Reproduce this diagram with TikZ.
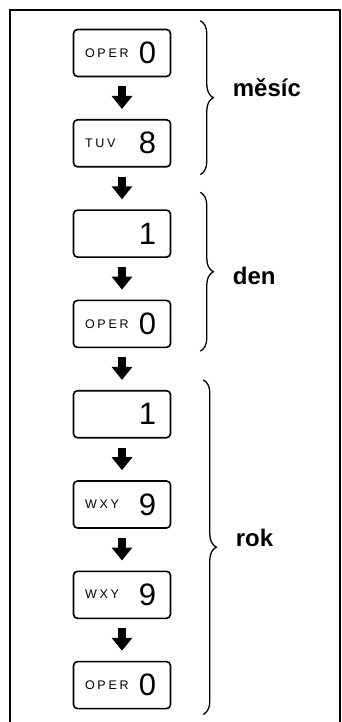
\documentclass[tikz,border=0pt]{standalone}
\usepackage{fontspec}
\setmainfont{Liberation Sans}
\usetikzlibrary{positioning,arrows.meta,decorations.pathreplacing,calc}
\newcommand{\klbl}[1]{\raisebox{6.5pt}{\fontsize{12.5}{12.5}\selectfont\addfontfeature{LetterSpace=22}#1}}
\newcommand{\kdig}[1]{{\fontsize{31}{31}\selectfont #1}}
\newcommand{\kkey}[2]{\makebox[74pt]{\klbl{#1}\hfill\kdig{#2}\hspace*{3pt}}}
\tikzset{keybox/.style={draw,line width=1.6pt,rounded corners=4pt,minimum height=47pt,inner xsep=11.5pt,inner ysep=0pt},
  flow/.style={-{Triangle[width=20pt,length=13pt]},line width=8pt,shorten >=10pt,shorten <=9pt},
  grp/.style={decorate,decoration={brace,amplitude=13pt},line width=1.3pt},
  grplbl/.style={anchor=west,font=\fontsize{24}{24}\selectfont\bfseries}}

\begin{document}
\begin{tikzpicture}[x=1pt,y=-1pt]
\useasboundingbox (0,0) rectangle (342,722);
\draw[line width=1.2pt] (10,722) -- (10,10) -- (340,10) -- (340,722);
% keys
\node[keybox] (k1) at (122,53) {\kkey{OPER}{0}};
\node[keybox,below=41.7pt of k1] (k2) {\kkey{TUV}{8}};
\node[keybox,below=41.7pt of k2] (k3) {\kkey{}{1}};
\node[keybox,below=41.7pt of k3] (k4) {\kkey{OPER}{0}};
\node[keybox,below=41.7pt of k4] (k5) {\kkey{}{1}};
\node[keybox,below=41.7pt of k5] (k6) {\kkey{WXY}{9}};
\node[keybox,below=41.7pt of k6] (k7) {\kkey{WXY}{9}};
\node[keybox,below=41.7pt of k7] (k8) {\kkey{OPER}{0}};
\draw[flow] (k1.south) -- (k2.north);
\draw[flow] (k2.south) -- (k3.north);
\draw[flow] (k3.south) -- (k4.north);
\draw[flow] (k4.south) -- (k5.north);
\draw[flow] (k5.south) -- (k6.north);
\draw[flow] (k6.south) -- (k7.north);
\draw[flow] (k7.south) -- (k8.north);
% groups
\coordinate (m1) at ($(k1.north east)+(29,-8)$); \coordinate (m2) at ($(k2.south east)+(29,7)$);
\coordinate (d1) at ($(k3.north east)+(29,-17)$); \coordinate (d2) at ($(k4.south east)+(29,3)$);
\coordinate (r1) at ($(k5.north east)+(32,-10)$); \coordinate (r2) at ($(k8.south east)+(32,5)$);
\draw[grp] (m1) -- (m2); \draw[grp] (d1) -- (d2); \draw[grp] (r1) -- (r2);
\node[grplbl] (mesic) at ($(m1)!0.5!(m2)+(29,-10)$) {měsíc};
\node[grplbl] (den) at ($(d1)!0.5!(d2)+(29,4)$) {den};
\node[grplbl] (rok) at ($(r1)!0.5!(r2)+(29,-9)$) {rok};
\end{tikzpicture}
\end{document}
